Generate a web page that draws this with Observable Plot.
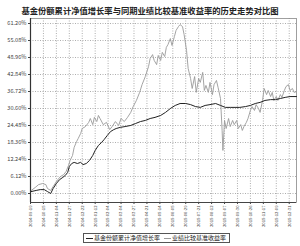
<!DOCTYPE html>
<html><head><meta charset="utf-8">
<script src="https://cdn.jsdelivr.net/npm/d3@7"></script>
<script src="https://cdn.jsdelivr.net/npm/@observablehq/plot@0.6"></script>
<style>
body{margin:0;background:#fff;font-family:"Noto Sans CJK SC","Noto Sans",sans-serif;}
#wrap{width:300px;height:246px;position:relative;overflow:hidden;background:#fff}
#title{height:17px;line-height:20px;text-align:center;font-size:8.3px;font-weight:bold;color:#222;white-space:nowrap;letter-spacing:0px}
#chart svg{display:block}
#legend{position:absolute;left:83px;top:233px;width:143px;height:8px;border:1px solid #555;font-size:6px;line-height:8px;color:#222;display:flex;align-items:center;white-space:nowrap;padding-left:2px;background:#fff}
#legend .sw{display:inline-block;width:7px;height:0;border-top:1px solid #222;margin-right:1px;vertical-align:middle}
#legend .item{display:flex;align-items:center;margin-right:4px}
</style></head>
<body>
<div id="wrap">
<div id="title">基金份额累计净值增长率与同期业绩比较基准收益率的历史走势对比图</div>
<div id="chart"></div>
<div id="legend"></div>
</div>
<script>
// Series names
const seriesNames = ["基金份额累计净值增长率", "业绩比较基准收益率"];
const seriesColors = ["#222222", "#9a9a9a"];

// Fund: trading-day index and cumulative NAV growth (%)
const fundDay = [1,7,12,17,21,25,28,32,36,40,43,46,48,51,54,58,62,65,69,73,77,80,84,88,91,95,99,103,106,111,117,124,130,136,142,148,154,161,167,173,179,185,192,198,204,210,216,222,229,235,241,247,253,259,266,272,278,284,290,297,303,309,315,321,329];
const fundValue = [0.7,1.1,1.4,1.4,0.7,0,1.8,3.6,5.0,5.8,6.5,7.6,9.7,10.8,11.2,10.8,11.2,10.4,10.8,11.9,13.7,15.5,17.3,18.4,19.4,20.9,22.3,23.0,23.4,23.8,24.1,24.5,25.2,25.9,26.3,27.0,27.4,28.1,29.2,30.6,31.7,32.4,32.4,32.0,31.3,31.0,31.7,32.0,32.4,31.7,31.0,31.0,31.0,31.0,31.3,31.7,32.4,32.8,33.5,33.8,33.8,34.2,34.6,34.9,34.9];

// Benchmark: trading-day index and return (%)
const benchDay = [1,6,10,15,19,21,25,28,32,37,41,44,47,49,52,54,57,59,62,64,68,72,74,77,79,82,84,86,90,94,98,101,105,109,112,116,120,124,127,131,135,138,142,146,148,151,153,156,158,161,163,166,168,170,173,175,178,180,183,185,188,190,193,195,198,200,203,205,208,210,213,215,217,220,222,225,227,230,232,235,237,238,240,242,245,247,250,252,255,257,260,262,264,267,269,272,274,277,279,282,284,287,289,292,294,297,299,301,304,306,309,311,314,316,319,321,324,326,329];
const benchValue = [1.1,2.2,3.2,3.6,3.2,1.8,1.1,2.5,4.3,6.1,6.8,7.9,10.1,11.9,13.7,16.6,18.7,19.8,21.6,23.4,24.1,25.6,27.0,24.8,27.4,25.9,28.1,27.0,24.8,25.6,23.0,24.1,25.9,24.5,27.0,25.9,27.4,29.2,31.3,33.5,36.4,39.2,42.1,45.7,48.6,50.0,47.9,46.4,49.7,47.9,50.8,49.3,52.6,53.6,55.8,53.3,56.5,58.7,60.1,60.8,60.1,57.2,51.5,45.0,41.4,37.8,42.1,36.4,41.4,40.0,43.6,37.1,38.9,36.4,40.0,35.6,39.2,40.7,38.2,34.2,22.7,15.5,26.3,23.4,27.0,24.1,26.3,24.8,26.3,23.4,24.8,22.7,24.1,25.6,27.0,29.9,31.3,29.9,32.0,30.6,29.2,33.5,37.8,35.6,37.1,34.9,36.4,33.5,34.9,33.5,35.6,34.6,37.1,38.5,39.2,37.1,37.8,36.4,36.7];

// Axis ticks
const yTicks = [0, 6.12, 12.24, 18.36, 24.48, 30.60, 36.72, 42.84, 48.96, 55.08, 61.20];
const xTickLabels = ["2014-09-19","2014-10-15","2014-11-04","2014-11-27","2014-12-22","2015-01-12","2015-02-04","2015-03-04","2015-03-27","2015-04-21","2015-05-14","2015-06-05","2015-06-29","2015-07-21","2015-08-12","2015-09-07","2015-09-30","2015-10-26","2015-11-17","2015-12-09","2015-12-31"];
const xTickStep = 16;
const xTickPos = xTickLabels.map((_, i) => i * xTickStep);

const fund = fundDay.map((d, i) => ({day: d, value: fundValue[i]}));
const bench = benchDay.map((d, i) => ({day: d, value: benchValue[i]}));

const chart = Plot.plot({
  width: 300,
  height: 215,
  marginTop: 1,
  marginBottom: 30,
  marginLeft: 30,
  marginRight: 4,
  style: {fontFamily: "'Noto Sans CJK SC','Noto Sans',sans-serif", color: "#444", background: "transparent"},
  x: {domain: [0, 329]},
  y: {domain: [-3.24, 63]},
  marks: [
    Plot.gridY(yTicks, {stroke: "#999", strokeOpacity: 1, strokeDasharray: "1,1.5", strokeWidth: 0.8}),
    Plot.gridX(xTickPos, {stroke: "#999", strokeOpacity: 1, strokeDasharray: "1,1.5", strokeWidth: 0.8}),
    Plot.frame({stroke: "#888", strokeWidth: 0.8}),
    Plot.line(bench, {x: "day", y: "value", stroke: seriesColors[1], strokeWidth: 0.9}),
    Plot.line(fund, {x: "day", y: "value", stroke: seriesColors[0], strokeWidth: 1}),
    Plot.axisY({ticks: yTicks, tickFormat: d => d.toFixed(2) + "%", tickSize: 2, tickPadding: 2, fontSize: 5.6, label: null, stroke: "#444"}),
    Plot.axisX({ticks: xTickPos, tickFormat: d => xTickLabels[Math.round(d / xTickStep)], tickRotate: -90, tickSize: 2, tickPadding: 1, fontSize: 4.2, label: null, stroke: "#444"}),
    Plot.ruleX([0], {stroke: "#333", strokeWidth: 1.2}),
    Plot.ruleY([-3.24], {stroke: "#444", strokeWidth: 1})
  ]
});
document.getElementById("chart").appendChild(chart);

const legend = document.getElementById("legend");
seriesNames.forEach((name, i) => {
  const item = document.createElement("span");
  item.className = "item";
  const sw = document.createElement("span");
  sw.className = "sw";
  sw.style.borderTopColor = seriesColors[i];
  item.appendChild(sw);
  item.appendChild(document.createTextNode(name));
  legend.appendChild(item);
});
</script>
</body></html>
